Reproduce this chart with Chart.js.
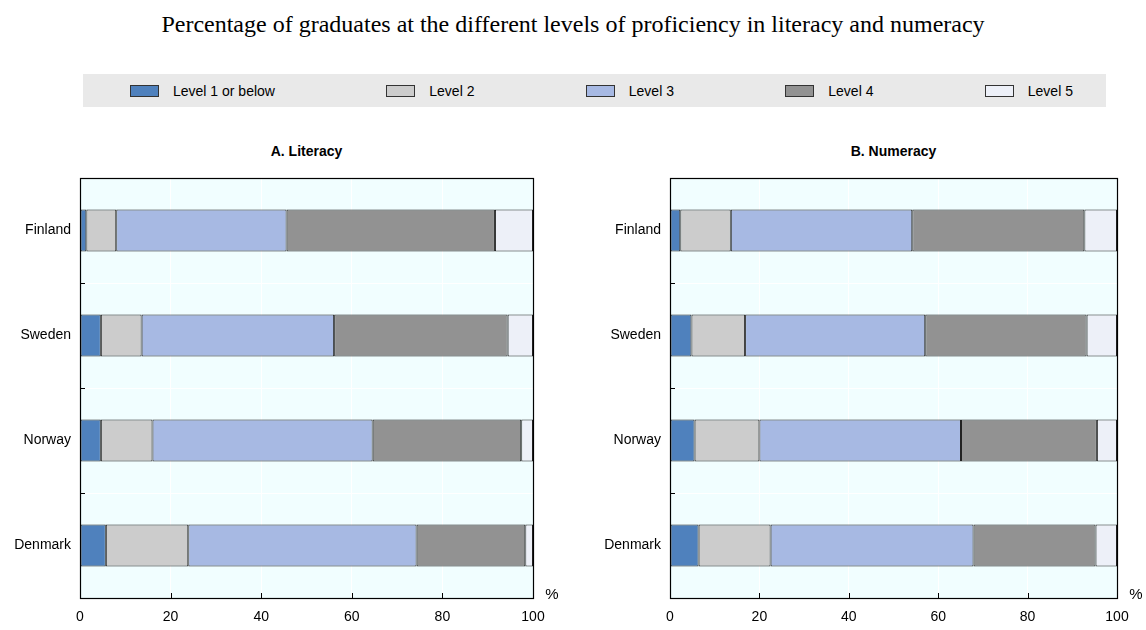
<!DOCTYPE html>
<html>
<head>
<meta charset="utf-8">
<script src="https://cdn.jsdelivr.net/npm/chart.js@4/dist/chart.umd.min.js"></script>
<style>
  body { margin: 0; width: 1146px; height: 630px; background: #fff; position: relative; overflow: hidden;
         font-family: "Liberation Sans", Arial, sans-serif; color: #000; }
  #title { position: absolute; top: 12px; left: 0; width: 1146px; text-align: center; line-height: 24px;
           font-family: "Liberation Serif", "Times New Roman", serif; font-size: 24px; }
  #legend { position: absolute; left: 83px; top: 74px; width: 1023px; height: 33px; background: #e9e9e9;
            display: flex; justify-content: space-between; align-items: center;
            padding: 0 33px 0 47px; box-sizing: border-box; font-size: 14px; }
  .item { display: flex; align-items: center; }
  .box { width: 27px; height: 10px; border: 1px solid #333; margin-right: 14px; }
  .panel-title { position: absolute; top: 143px; font-weight: bold; font-size: 14px; text-align: center; }
  .wrap { position: absolute; top: 160px; }
</style>
</head>
<body>
<div id="title">Percentage of graduates at the different levels of proficiency in literacy and numeracy</div>
<div id="legend"></div>
<div class="panel-title" style="left:80px;width:453px;">A. Literacy</div>
<div class="panel-title" style="left:670px;width:447px;">B. Numeracy</div>
<div class="wrap" style="left:0px;"><canvas id="literacyChart" width="573" height="470"></canvas></div>
<div class="wrap" style="left:590px;"><canvas id="numeracyChart" width="556" height="470"></canvas></div>
<script>
const countries = ['Finland', 'Sweden', 'Norway', 'Denmark'];
const levels = ['Level 1 or below', 'Level 2', 'Level 3', 'Level 4', 'Level 5'];
const levelColors = ['#4F81BD', '#CCCCCC', '#A7B9E3', '#929292', '#EDF0F8'];

// A. Literacy (% of graduates)
const level1Lit = [1.4, 4.6, 4.6, 5.7];
const level2Lit = [6.6, 9.0, 11.4, 18.2];
const level3Lit = [37.6, 42.5, 48.6, 50.4];
const level4Lit = [46.0, 38.3, 32.8, 24.0];
const level5Lit = [8.4, 5.6, 2.6, 1.7];

// B. Numeracy (% of graduates)
const level1Num = [2.3, 4.8, 5.5, 6.4];
const level2Num = [11.3, 12.0, 14.5, 16.1];
const level3Num = [40.6, 40.3, 45.1, 45.4];
const level4Num = [38.5, 36.1, 30.4, 27.3];
const level5Num = [7.3, 6.8, 4.5, 4.8];

const xTicks = [0, 20, 40, 60, 80, 100];

// legend
const legendEl = document.getElementById('legend');
levels.forEach((lvl, i) => {
  const item = document.createElement('div');
  item.className = 'item';
  item.innerHTML = '<span class="box" style="background:' + levelColors[i] + '"></span><span>' + lvl + '</span>';
  legendEl.appendChild(item);
});

// cyan plot background, frame, inward ticks and the % sign
const panelFrame = {
  id: 'panelFrame',
  beforeDraw(chart) {
    const { ctx, chartArea: a } = chart;
    ctx.save();
    ctx.fillStyle = '#F1FEFF';
    ctx.fillRect(a.left, a.top, a.right - a.left, a.bottom - a.top);
    ctx.restore();
  },
  afterDraw(chart) {
    const { ctx, chartArea: a, scales } = chart;
    ctx.save();
    ctx.strokeStyle = '#000';
    ctx.lineWidth = 1.2;
    ctx.strokeRect(a.left + 0.5, a.top + 0.5, a.right - a.left, a.bottom - a.top);
    ctx.lineWidth = 1;
    ctx.beginPath();
    scales.x.ticks.forEach(t => {
      const px = Math.round(scales.x.getPixelForValue(t.value)) + 0.5;
      ctx.moveTo(px, a.bottom);
      ctx.lineTo(px, a.bottom - 5);
    });
    for (let i = 0; i < countries.length - 1; i++) {
      const py = Math.round((scales.y.getPixelForValue(i) + scales.y.getPixelForValue(i + 1)) / 2) + 0.5;
      ctx.moveTo(a.left, py);
      ctx.lineTo(a.left + 5, py);
    }
    ctx.stroke();
    ctx.fillStyle = '#000';
    ctx.font = '15px "Liberation Sans", Arial, sans-serif';
    ctx.textAlign = 'center';
    ctx.textBaseline = 'middle';
    ctx.fillText('%', a.right + 19, a.bottom - 3);
    ctx.restore();
  }
};

const makeDatasets = (series) => series.map((values, i) => ({
  label: levels[i],
  data: values,
  backgroundColor: levelColors[i],
  borderColor: '#222',
  borderWidth: 1,
  borderSkipped: false,
  barPercentage: 0.4,
  categoryPercentage: 1
}));

const makeChart = (id, series, rightPad) => new Chart(document.getElementById(id), {
  type: 'bar',
  data: {
    labels: countries,
    datasets: makeDatasets(series)
  },
  options: {
    responsive: false,
    animation: false,
    indexAxis: 'y',
    layout: { padding: { top: 18, right: rightPad, left: 0, bottom: 0 } },
    plugins: {
      legend: { display: false },
      tooltip: { enabled: false }
    },
    scales: {
      x: {
        stacked: true,
        min: 0,
        max: 100,
        afterBuildTicks: (scale) => { scale.ticks = xTicks.map(v => ({ value: v })); },
        afterFit: (scale) => { scale.height = 32; },
        ticks: { color: '#000', font: { size: 14, family: '"Liberation Sans", Arial, sans-serif' }, padding: 11 },
        grid: { color: '#fff', lineWidth: 1, drawTicks: false },
        border: { display: false }
      },
      y: {
        stacked: true,
        offset: true,
        afterFit: (scale) => { scale.width = 80; },
        ticks: { color: '#000', font: { size: 14, family: '"Liberation Sans", Arial, sans-serif' }, padding: 9 },
        grid: { color: '#fff', lineWidth: 1, drawTicks: false, offset: true },
        border: { display: false }
      }
    }
  },
  plugins: [panelFrame]
});

makeChart('literacyChart', [level1Lit, level2Lit, level3Lit, level4Lit, level5Lit], 40);
makeChart('numeracyChart', [level1Num, level2Num, level3Num, level4Num, level5Num], 29);
</script>
</body>
</html>
